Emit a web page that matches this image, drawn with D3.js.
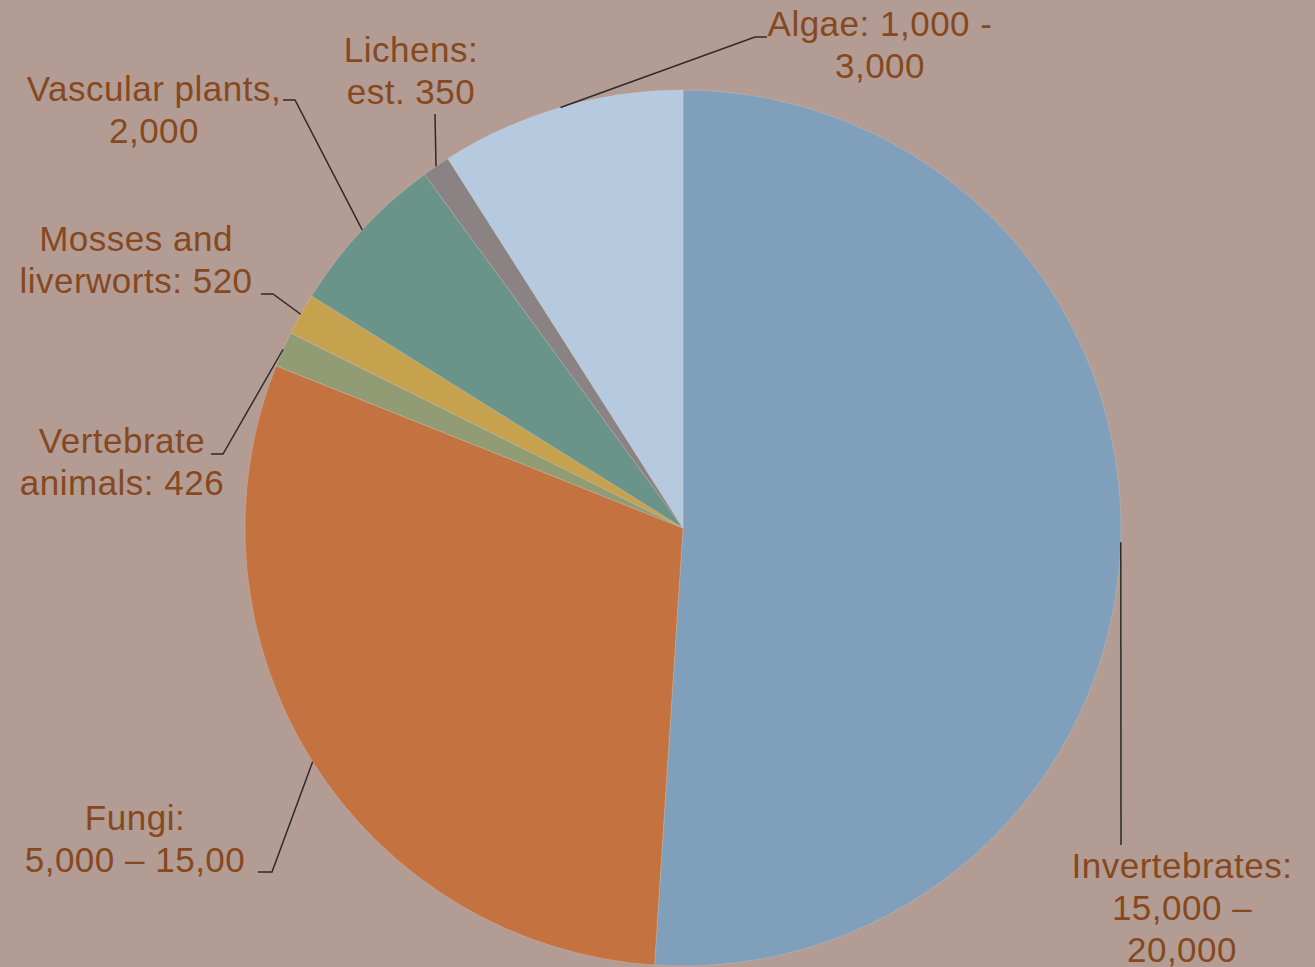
<!DOCTYPE html>
<html>
<head>
<meta charset="utf-8">
<script src="https://cdn.jsdelivr.net/npm/d3@7"></script>
<style>
  html, body { margin: 0; padding: 0; background: #b39c93; }
  svg { display: block; }
  .label { font-family: "Liberation Sans", Arial, sans-serif; font-size: 35px; letter-spacing: 0.5px; fill: #86491f; }
</style>
</head>
<body>
<svg id="chart"></svg>
<script>
// groups, clockwise from 12 o'clock
const groups = ['Invertebrates', 'Fungi', 'Vertebrate animals', 'Mosses and liverworts', 'Vascular plants', 'Lichens', 'Algae'];
// plotted values
const values = [17470, 10270, 447, 528, 2077, 350, 3089];
const labelText = [
    ['Invertebrates:', '15,000 –', '20,000'],
    ['Fungi:', '5,000 – 15,00'],
    ['Vertebrate', 'animals: 426'],
    ['Mosses and', 'liverworts: 520'],
    ['Vascular plants,', '2,000'],
    ['Lichens:', 'est. 350'],
    ['Algae: 1,000 -', '3,000']
];
const colors = ['#7f9fba', '#c4723f', '#929c74', '#c6a24e', '#6a9489', '#8b8383', '#b5cade'];

// label placement: text centre / first baseline, and leader points from label towards the slice
const labelPos = [
    { x: 1182, y: 878, leader: [[1121, 845]] },
    { x: 135, y: 830, leader: [[258, 872], [272, 872]] },
    { x: 122, y: 453, leader: [[211, 454], [223, 454]] },
    { x: 136, y: 251, leader: [[261, 294], [273, 294]] },
    { x: 154, y: 101, leader: [[283, 100], [295, 100]] },
    { x: 411, y: 62, leader: [[435, 114]] },
    { x: 880, y: 36, leader: [[767, 37], [755, 37]] }
];

const width = 1315, height = 967;
const cx = 683, cy = 528, radius = 438;
const lineHeight = 42;

const svg = d3.select('#chart').attr('width', width).attr('height', height);
svg.append('rect').attr('width', width).attr('height', height).attr('fill', '#b39c93');

const pie = d3.pie().sort(null).value(d => d)(values);
const arc = d3.arc().innerRadius(0).outerRadius(radius);

const g = svg.append('g').attr('transform', `translate(${cx}, ${cy})`);
g.selectAll('path.slice').data(pie).join('path')
    .attr('class', 'slice')
    .attr('d', arc)
    .attr('fill', (d, i) => colors[i])
    .attr('stroke', 'rgba(215, 205, 200, 0.3)')
    .attr('stroke-width', 1);

// leader lines: from label elbow to the slice edge at mid angle
const line = d3.line();
svg.selectAll('path.leader').data(pie).join('path')
    .attr('class', 'leader')
    .attr('d', (d, i) => {
        const mid = (d.startAngle + d.endAngle) / 2;
        const anchor = [cx + radius * Math.sin(mid), cy - radius * Math.cos(mid)];
        return line([...labelPos[i].leader, anchor]);
    })
    .attr('fill', 'none')
    .attr('stroke', '#2e2a28')
    .attr('stroke-width', 1.5);

const labels = svg.selectAll('text.label').data(labelText).join('text')
    .attr('class', 'label')
    .attr('text-anchor', 'middle')
    .attr('x', (d, i) => labelPos[i].x)
    .attr('y', (d, i) => labelPos[i].y);
labels.selectAll('tspan').data((d, i) => d.map(t => ({ t, i }))).join('tspan')
    .attr('x', d => labelPos[d.i].x)
    .attr('dy', (d, j) => j === 0 ? 0 : lineHeight)
    .text(d => d.t);
</script>
</body>
</html>
